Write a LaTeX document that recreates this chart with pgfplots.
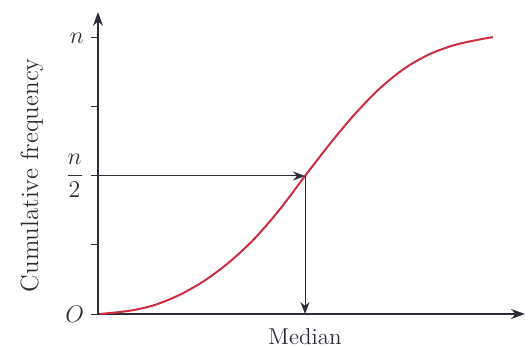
\documentclass[border=0pt]{standalone}
\usepackage{pgfplots}
\pgfplotsset{compat=1.18}
\usetikzlibrary{arrows.meta}
\definecolor{curvered}{RGB}{205,45,65}
\definecolor{axisgray}{RGB}{45,45,55}
\begin{document}
\begin{tikzpicture}
% bounding box in pt, matching the 528x347 reference (0.5pt per px)
\useasboundingbox (-49pt,-16.5pt) rectangle (215pt,157pt);
\begin{axis}[
  scale only axis,
  width=213.5pt, height=151pt,
  xmin=0, xmax=427,
  ymin=0, ymax=1.0942,
  axis lines=left,
  axis line style={axisgray, line width=0.7pt, -{Stealth[length=7pt,width=5pt]}},
  xtick={207}, xticklabels={Median},
  x tick style={draw=none},
  ytick={0,0.25,0.5,0.75,1},
  yticklabels={$O$,,$\displaystyle\frac{n}{2}$,,$n$},
  tick align=outside,
  major tick length=3.5pt,
  y tick style={axisgray, line width=0.5pt},
  tick label style={font=\fontsize{11.5}{13}\selectfont, text=axisgray},
  ylabel={Cumulative frequency},
  ylabel style={font=\fontsize{12.5}{14}\selectfont, text=axisgray,
    at={(axis description cs:-0.155,0.46)}, anchor=center, rotate=0},
  clip=false,
]
\addplot[curvered, line width=1pt, smooth] coordinates {
  (2,0) (32,0.012) (57,0.033) (82,0.070) (107,0.122) (132,0.190)
  (157,0.275) (182,0.380) (207,0.5) (232,0.617) (257,0.725)
  (282,0.818) (307,0.891) (332,0.942) (357,0.975) (382,0.995) (395,1.003)
};
\addplot[axisgray, line width=0.5pt, -{Stealth[length=6pt,width=4.5pt]}]
  coordinates {(0,0.5) (207,0.5)};
\addplot[axisgray, line width=0.5pt, -{Stealth[length=6pt,width=4.5pt]}]
  coordinates {(207,0.5) (207,0)};
\end{axis}
\end{tikzpicture}
\end{document}
